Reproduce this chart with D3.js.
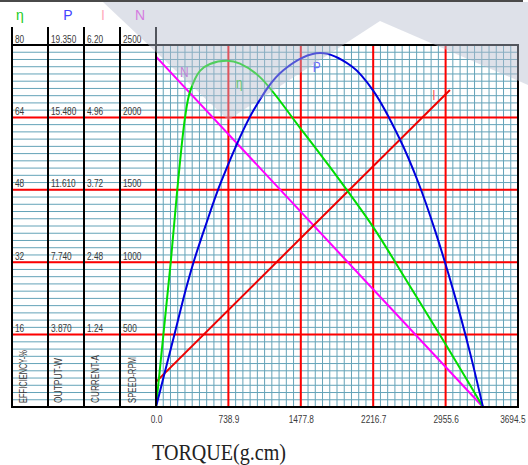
<!DOCTYPE html>
<html>
<head>
<meta charset="utf-8">
<script src="https://cdn.jsdelivr.net/npm/d3@7"></script>
<style>
  html, body { margin: 0; padding: 0; background: #ffffff; }
  svg { display: block; }
  .num { font-family: "Liberation Sans", "DejaVu Sans", sans-serif; font-size: 11.5px; fill: #3a3a3a; }
</style>
</head>
<body>
<svg id="chart" width="528" height="465"></svg>
<script>
// ---------------- data ----------------
const torqueTicks = [0, 738.9, 1477.8, 2216.7, 2955.6, 3694.5];
const torqueTickLabels = ["0.0", "738.9", "1477.8", "2216.7", "2955.6", "3694.5"];

const effTickValues = [16, 32, 48, 64, 80];
const effTickLabels = ["16", "32", "48", "64", "80"];
const powerTickLabels = ["3.870", "7.740", "11.610", "15.480", "19.350"];
const currentTickLabels = ["1.24", "2.48", "3.72", "4.96", "6.20"];
const speedTickLabels = ["500", "1000", "1500", "2000", "2500"];

// efficiency curve (torque g.cm, efficiency %)
const effTorque = [0, 75, 150, 217, 296, 347, 449, 551, 725, 857, 1061, 1470, 1776, 2215, 2470, 2660, 2898, 3052, 3337];
const effValues = [0, 15.9, 31.9, 48.0, 63.9, 69.7, 74.3, 75.8, 76.5, 75.9, 72.9, 61.7, 53.0, 39.8, 31.0, 24.3, 15.9, 10.4, 0];

// output power curve (torque, W)
const powTorque = [0, 194, 300, 381, 500, 673, 1000, 1300, 1674, 2000, 2218, 2490, 2677, 2850, 3052, 3200, 3337];
const powValues = [0, 4.0, 6.2, 7.7, 9.6, 12.15, 15.9, 18.0, 18.92, 18.2, 16.9, 14.3, 12.0, 9.4, 5.9, 3.0, 0];

// speed line (torque, rpm)
const spdTorque = [0, 3337];
const spdValues = [2420, 0];

// current line (torque, A)
const curTorque = [0, 3000];
const curValues = [0.43, 5.43];

// ---------------- layout ----------------
const L = 156, R = 518, T = 45, B = 407;
const colX = [12, 48, 84, 120];

const svg = d3.select("#chart");

const x = d3.scaleLinear().domain([0, 3694.5]).range([L, R]);
const yEff = d3.scaleLinear().domain([0, 80]).range([B, T]);
const yPow = d3.scaleLinear().domain([0, 19.35]).range([B, T]);
const yCur = d3.scaleLinear().domain([0, 6.2]).range([B, T]);
const ySpd = d3.scaleLinear().domain([0, 2500]).range([B, T]);

// condense text horizontally
function condense(sel, f) {
  sel.each(function () {
    const w = this.getComputedTextLength();
    d3.select(this).attr("textLength", w * f).attr("lengthAdjust", "spacingAndGlyphs");
  });
}

// minor grid (50 divisions)
const minorX = d3.range(0, 51).map(i => i * 3694.5 / 50);
const minorY = d3.range(0, 51).map(i => i * 80 / 50);

const gGrid = svg.append("g");
gGrid.selectAll("line.mx").data(minorX).join("line")
  .attr("x1", d => x(d)).attr("x2", d => x(d))
  .attr("y1", T).attr("y2", B)
  .attr("stroke", "#64a3b8").attr("stroke-width", 1);
gGrid.selectAll("line.my").data(minorY).join("line")
  .attr("x1", colX[0]).attr("x2", R)
  .attr("y1", d => yEff(d)).attr("y2", d => yEff(d))
  .attr("stroke", "#64a3b8").attr("stroke-width", 1);

// major red grid
const gMajor = svg.append("g");
gMajor.selectAll("line.vx").data(torqueTicks.slice(1, -1)).join("line")
  .attr("x1", d => x(d)).attr("x2", d => x(d))
  .attr("y1", T).attr("y2", B)
  .attr("stroke", "#ff0000").attr("stroke-width", 2);
gMajor.selectAll("line.hy").data(effTickValues.slice(0, -1)).join("line")
  .attr("x1", colX[0]).attr("x2", R)
  .attr("y1", d => yEff(d)).attr("y2", d => yEff(d))
  .attr("stroke", "#ff0000").attr("stroke-width", 2);

// curves
function drawCurve(xs, ys, yScale, color, curve) {
  const pts = xs.map((t, i) => [t, ys[i]]);
  const line = d3.line().x(d => x(d[0])).y(d => yScale(d[1])).curve(curve);
  svg.append("path").datum(pts)
    .attr("d", line).attr("fill", "none")
    .attr("stroke", color).attr("stroke-width", 2)
    .attr("stroke-linejoin", "round");
}
drawCurve(spdTorque, spdValues, ySpd, "#ff00ff", d3.curveLinear);
drawCurve(curTorque, curValues, yCur, "#ee0000", d3.curveLinear);
drawCurve(effTorque, effValues, yEff, "#00dd00", d3.curveCatmullRom.alpha(0.5));
drawCurve(powTorque, powValues, yPow, "#0000dd", d3.curveCatmullRom.alpha(0.5));

// black frame and column dividers
const gFrame = svg.append("g").attr("stroke", "#000").attr("stroke-width", 2);
colX.concat([L]).forEach(cx => {
  gFrame.append("line").attr("x1", cx).attr("x2", cx).attr("y1", 27).attr("y2", B + 1);
});
gFrame.append("line").attr("x1", R).attr("x2", R).attr("y1", T - 1).attr("y2", B + 1);
gFrame.append("line").attr("x1", colX[0] - 1).attr("x2", R + 1).attr("y1", T).attr("y2", T);
gFrame.append("line").attr("x1", colX[0] - 1).attr("x2", R + 1).attr("y1", B).attr("y2", B);

// left column labels
const colLabels = [effTickLabels, powerTickLabels, currentTickLabels, speedTickLabels];
colLabels.forEach((labels, ci) => {
  svg.append("g").selectAll("text").data(effTickValues).join("text")
    .attr("class", "num")
    .attr("x", colX[ci] + 3)
    .attr("y", d => yEff(d) - 2.5)
    .text((d, i) => labels[i])
    .call(condense, 0.72);
});

// rotated column titles
const colTitles = ["EFFICIENCY-%", "OUTPUT-W", "CURRENT-A", "SPEED-RPM"];
const colTitleLen = [53, 45, 48, 46];
const colTitleX = [27, 62, 99, 136];
colTitles.forEach((t, i) => {
  svg.append("text").attr("class", "num")
    .attr("transform", `translate(${colTitleX[i]},403) rotate(-90)`)
    .attr("textLength", colTitleLen[i]).attr("lengthAdjust", "spacingAndGlyphs")
    .text(t);
});

// x tick labels via axis
const xAxis = d3.axisBottom(x).tickValues(torqueTicks)
  .tickFormat((d, i) => torqueTickLabels[i]).tickSize(0).tickPadding(0);
const gx = svg.append("g").attr("transform", `translate(0,${B + 8})`).call(xAxis);
gx.select(".domain").remove();
gx.attr("font-size", null).attr("font-family", null);
gx.selectAll("text").attr("class", "num").attr("fill", null)
  .attr("dy", "0.71em");
gx.selectAll(".tick").filter(d => d !== 3694.5).select("text").call(condense, 0.72);
// last label: condensed by a scale transform so it stays inside the right edge
gx.selectAll(".tick").filter(d => d === 3694.5).select("text")
  .each(function () {
    const w = this.getComputedTextLength() * 0.72;
    d3.select(this).attr("text-anchor", "start").attr("x", 0)
      .attr("transform", `translate(${525 - w - x(3694.5)},0) scale(0.72,1)`);
  });

// axis title
svg.append("text")
  .attr("x", 152).attr("y", 460)
  .attr("font-family", "'Liberation Serif', 'DejaVu Serif', serif")
  .attr("font-size", 23).attr("fill", "#222")
  .attr("textLength", 134).attr("lengthAdjust", "spacingAndGlyphs")
  .text("TORQUE(g.cm)");

// header legend symbols
const headers = [
  { t: "η", x: 20, c: "#22cc22" },
  { t: "P", x: 68, c: "#4444ff" },
  { t: "I", x: 103, c: "#ffaabb" },
  { t: "N", x: 140, c: "#ee44ee" }
];
svg.append("g").selectAll("text").data(headers).join("text")
  .attr("x", d => d.x).attr("y", 20)
  .attr("text-anchor", "middle")
  .attr("font-family", "'Liberation Sans', 'DejaVu Sans', sans-serif")
  .attr("font-size", 14).attr("fill", d => d.c)
  .text(d => d.t);

// in-plot curve labels
const curveLabels = [
  { t: "N", tx: 290, v: 2280, s: ySpd, c: "#cc55dd" },
  { t: "η", tx: 850, v: 70.5, s: yEff, c: "#22cc22" },
  { t: "P", tx: 1640, v: 17.9, s: yPow, c: "#6666ff" },
  { t: "I", tx: 2837, v: 5.26, s: yCur, c: "#ff5555" }
];
svg.append("g").selectAll("text").data(curveLabels).join("text")
  .attr("x", d => x(d.tx)).attr("y", d => d.s(d.v))
  .attr("text-anchor", "middle")
  .attr("font-family", "'Liberation Sans', 'DejaVu Sans', sans-serif")
  .attr("font-size", 14).attr("fill", d => d.c)
  .text(d => d.t)
  .call(condense, 0.85);

// translucent watermark shape and top rule
svg.append("polygon")
  .attr("points", "103,2 528,2 528,85 380,21 228,120")
  .attr("fill", "#b6bccf").attr("opacity", 0.45);
svg.append("rect").attr("x", 0).attr("y", 0).attr("width", 523).attr("height", 2).attr("fill", "#4a4a4a");
</script>
</body>
</html>
